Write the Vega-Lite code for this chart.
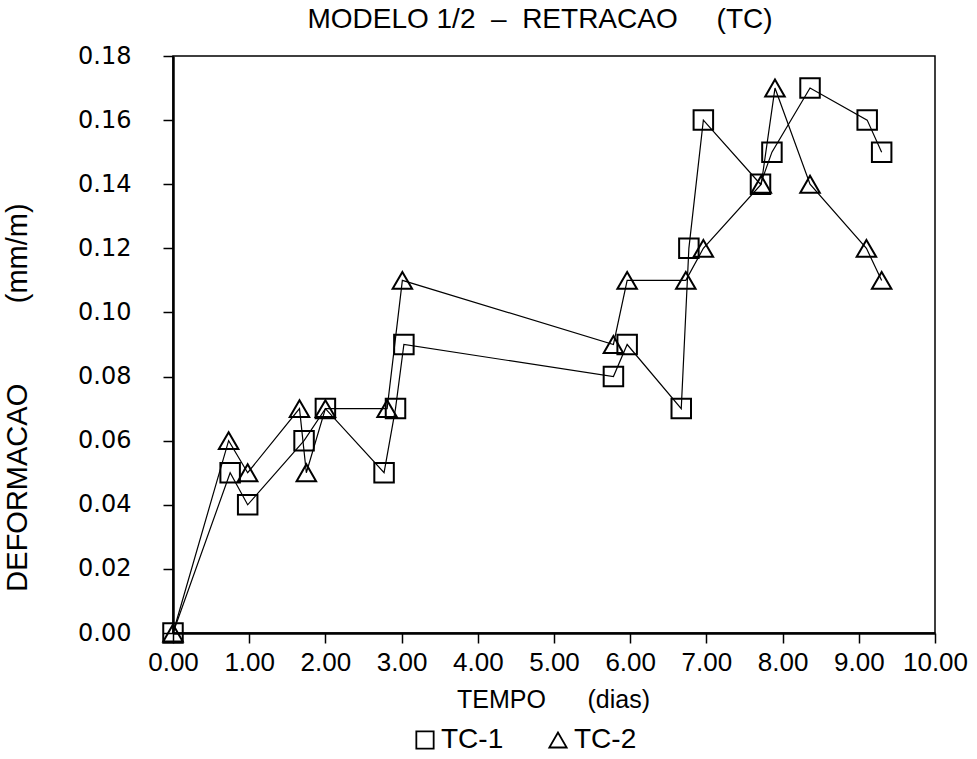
{
  "$schema": "https://vega.github.io/schema/vega-lite/v6.json",
  "autosize": "none",
  "width": 762,
  "height": 577,
  "padding": {"left": 173, "top": 56, "right": 42, "bottom": 126},
  "background": "white",
  "title": {
    "text": "MODELO\u00a01/2\u00a0\u00a0–\u00a0\u00a0RETRACAO\u00a0\u00a0\u00a0\u00a0\u00a0(TC)",
    "font": "Liberation Sans",
    "fontSize": 28,
    "fontWeight": "normal",
    "color": "black",
    "anchor": "middle",
    "dx": -14,
    "offset": 10
  },
  "config": {
    "view": {"stroke": "black", "strokeWidth": 1.5},
    "axis": {
      "domainColor": "black",
      "domainWidth": 2.5,
      "tickColor": "black",
      "tickWidth": 1.5,
      "tickSize": 10,
      "grid": false,
      "labelColor": "black",
      "titleColor": "black",
      "titleFontWeight": "normal"
    }
  },
  "data": {
    "values": [
      {"serie": "TC-1", "dias": 0.0, "deformacao": 0.0},
      {"serie": "TC-1", "dias": 0.75, "deformacao": 0.05},
      {"serie": "TC-1", "dias": 0.98, "deformacao": 0.04},
      {"serie": "TC-1", "dias": 1.72, "deformacao": 0.06},
      {"serie": "TC-1", "dias": 2.0, "deformacao": 0.07},
      {"serie": "TC-1", "dias": 2.77, "deformacao": 0.05},
      {"serie": "TC-1", "dias": 2.92, "deformacao": 0.07},
      {"serie": "TC-1", "dias": 3.03, "deformacao": 0.09},
      {"serie": "TC-1", "dias": 5.78, "deformacao": 0.08},
      {"serie": "TC-1", "dias": 5.96, "deformacao": 0.09},
      {"serie": "TC-1", "dias": 6.67, "deformacao": 0.07},
      {"serie": "TC-1", "dias": 6.77, "deformacao": 0.12},
      {"serie": "TC-1", "dias": 6.96, "deformacao": 0.16},
      {"serie": "TC-1", "dias": 7.71, "deformacao": 0.14},
      {"serie": "TC-1", "dias": 7.86, "deformacao": 0.15},
      {"serie": "TC-1", "dias": 8.36, "deformacao": 0.17},
      {"serie": "TC-1", "dias": 9.11, "deformacao": 0.16},
      {"serie": "TC-1", "dias": 9.3, "deformacao": 0.15},
      {"serie": "TC-2", "dias": 0.0, "deformacao": 0.0},
      {"serie": "TC-2", "dias": 0.73, "deformacao": 0.06},
      {"serie": "TC-2", "dias": 0.98, "deformacao": 0.05},
      {"serie": "TC-2", "dias": 1.66, "deformacao": 0.07},
      {"serie": "TC-2", "dias": 1.75, "deformacao": 0.05},
      {"serie": "TC-2", "dias": 2.0, "deformacao": 0.07},
      {"serie": "TC-2", "dias": 2.81, "deformacao": 0.07},
      {"serie": "TC-2", "dias": 3.01, "deformacao": 0.11},
      {"serie": "TC-2", "dias": 5.78, "deformacao": 0.09},
      {"serie": "TC-2", "dias": 5.96, "deformacao": 0.11},
      {"serie": "TC-2", "dias": 6.73, "deformacao": 0.11},
      {"serie": "TC-2", "dias": 6.96, "deformacao": 0.12},
      {"serie": "TC-2", "dias": 7.72, "deformacao": 0.14},
      {"serie": "TC-2", "dias": 7.9, "deformacao": 0.17},
      {"serie": "TC-2", "dias": 8.36, "deformacao": 0.14},
      {"serie": "TC-2", "dias": 9.1, "deformacao": 0.12},
      {"serie": "TC-2", "dias": 9.3, "deformacao": 0.11}
    ]
  },
  "encoding": {
    "x": {
      "field": "dias",
      "type": "quantitative",
      "scale": {"domain": [0, 10], "nice": false, "zero": false},
      "axis": {
        "title": "TEMPO\u00a0\u00a0\u00a0\u00a0\u00a0 (dias)",
        "values": [0, 1, 2, 3, 4, 5, 6, 7, 8, 9, 10],
        "format": ".2f",
        "labelFont": "Liberation Sans Narrow, Liberation Sans",
        "labelFontSize": 26,
        "labelPadding": 6,
        "labelOverlap": false,
        "labelFlush": false,
        "titleFont": "Liberation Sans Narrow, Liberation Sans",
        "titleFontSize": 25,
        "titleX": 380,
        "titleY": 54
      }
    },
    "y": {
      "field": "deformacao",
      "type": "quantitative",
      "scale": {"domain": [0, 0.18], "nice": false, "zero": false},
      "axis": {
        "title": "DEFORMACAO\u00a0\u00a0\u00a0\u00a0\u00a0\u00a0\u00a0\u00a0\u00a0 (mm/m)",
        "values": [0, 0.02, 0.04, 0.06, 0.08, 0.1, 0.12, 0.14, 0.16, 0.18],
        "format": ".2f",
        "labelFont": "DejaVu Sans",
        "labelFontSize": 24,
        "labelPadding": 32,
        "labelOverlap": false,
        "labelFlush": false,
        "titleFont": "Liberation Sans Narrow, Liberation Sans",
        "titleFontSize": 29,
        "titleX": -141,
        "titleY": 341
      }
    }
  },
  "layer": [
    {
      "mark": {"type": "line", "color": "black", "strokeWidth": 1.2},
      "encoding": {"detail": {"field": "serie"}}
    },
    {
      "mark": {"type": "point", "filled": false, "stroke": "black", "strokeWidth": 2, "size": 380, "opacity": 1},
      "encoding": {
        "shape": {
          "field": "serie",
          "type": "nominal",
          "scale": {"domain": ["TC-1", "TC-2"], "range": ["square", "triangle-up"]},
          "legend": {
            "title": null,
            "orient": "none",
            "direction": "horizontal",
            "legendX": 238,
            "legendY": 670,
            "symbolSize": 300,
            "symbolStrokeColor": "black",
            "symbolStrokeWidth": 1.8,
            "symbolFillColor": "transparent",
            "labelFont": "Liberation Sans Narrow, Liberation Sans",
            "labelFontSize": 28,
            "labelColor": "black",
            "labelOffset": 2,
            "columnPadding": 40
          }
        }
      }
    }
  ]
}
